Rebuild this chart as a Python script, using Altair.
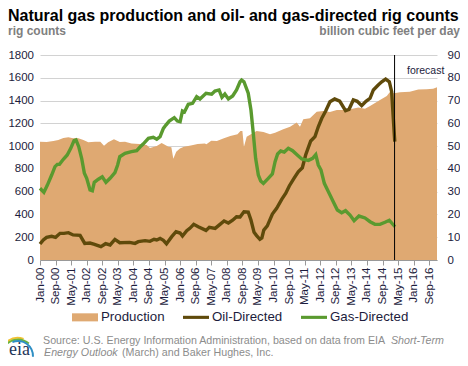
import altair as alt
import pandas as pd

# month index counted from Jan-00
prod_m = [0,3.4,6.9,9.4,12,14.6,17,19.7,22.3,24.8,28.3,31,32.9,35,38,41,43.7,47,51,54.8,56.5,60,62.5,66,67.5,68.5,70,71.9,74,77.5,81,84.7,85.5,88,90.9,94.5,97.8,101.5,103,104,104.8,106.2,111.3,114.8,118.2,120.8,125,128.5,131.9,133.6,135.3,138.7,142.2,145.6,149,152.5,157.6,163.6,167,169.6,174.7,178.2,179.9,181.9,185,190,194.4,198.7,202,204]
prod_v = [51.9,51.8,52.2,52.7,53.6,53.9,53.4,53.4,52.7,51.7,51.9,51.9,50.2,51.7,53,51.8,51.9,51.2,50.9,50.5,49.2,50,51.4,49.7,49.5,44.5,47.5,49,49.7,50.3,50.9,51.2,50.8,52.4,52.2,53.4,54.4,55.2,56.6,56.6,49.7,54.1,56.6,56.2,55.2,55.9,57.4,58.5,60.4,58.5,61.8,62.2,65.1,65.4,65.0,65.9,65.9,66.9,66.4,67.6,70.2,72,73.9,73.2,73.6,73.9,74.8,75,75.2,75.8]

gas_m = [0,2,3.8,6,7.7,8.9,10,12,14,15.8,17.5,18.5,19.9,21.4,22.8,24,25.7,26.9,27.9,30,32,33.9,36,38.5,39.9,41,43.7,47,49.7,51.4,53,55.7,58.2,60,61.7,63.4,64.7,66.4,69,70.6,72,73.2,74.2,76.2,78.4,80.5,82.2,85.3,88.2,89.9,92,93.5,95,96.8,99,101,102.8,103.6,104.8,107,108.4,109.6,110.8,112.2,113.4,114.8,117.3,119.4,120.8,122.1,123.7,125.5,127.6,129.8,132.2,134.5,137.9,140.1,141.7,143,144.4,146.1,148.2,150.7,152.8,155,157,159.3,161.4,163.9,167,169.6,172.1,174.7,177.3,179.5,182.4]
gas_v = [630,594,658,746,820,840,840,884,922,980,1048,1054,995,893,761,717,615,608,682,709,731,682,717,767,834,907,936,951,960,992,1018,1068,1077,1060,1083,1156,1185,1220,1250,1220,1214,1308,1300,1367,1376,1434,1414,1464,1455,1484,1493,1428,1457,1414,1440,1493,1565,1580,1565,1464,1317,1112,893,746,694,673,717,755,863,931,957,948,981,960,922,887,875,893,925,834,790,673,600,512,439,415,433,395,345,386,369,336,313,313,331,349,292]

oil_m = [0,1.7,3.4,6,8,10.3,12.3,14.6,17,20.6,23,25.7,28,31.3,33.7,36,38.5,41,46,48.8,50.5,54,56.5,58.6,60,61.7,63.4,65,67.7,69.9,72,73.2,75.4,77,79,81.3,85.3,87,90,92.5,94.6,96.8,99,101,102.8,104.8,107,108.4,110,111.3,113,114,115,116.8,119.4,121.6,124.2,126.3,128.1,130.5,132.7,134.8,136.5,139.1,141.3,143,144.8,146.8,149,151.4,154,157,158.8,161,163,165.3,167.5,169.6,171.3,173.8,175.6,177.6,179.5,180.7,181.6,182.3]
oil_v = [140,176,199,208,199,234,234,240,220,217,146,149,138,117,143,132,181,152,155,146,161,170,164,182,176,190,173,143,205,248,237,211,257,278,313,292,260,287,278,313,342,325,349,380,378,424,420,351,243,214,182,193,263,299,404,454,533,586,650,717,775,810,922,1045,1083,1170,1244,1308,1390,1414,1395,1311,1323,1405,1393,1355,1393,1420,1493,1537,1565,1589,1565,1478,1229,1039]

forecast_m = [182.2]
tick_months = list(range(0, 201, 8))
tick_labels = ["Jan-00","Sep-00","May-01","Jan-02","Sep-02","May-03","Jan-04","Sep-04","May-05","Jan-06","Sep-06","May-07","Jan-08","Sep-08","May-09","Jan-10","Sep-10","May-11","Jan-12","Sep-12","May-13","Jan-14","Sep-14","May-15","Jan-16","Sep-16"]
series = ["Production", "Oil-Directed", "Gas-Directed"]
colors = ["#DFA972", "#5F4A0B", "#5A9A2F"]
symbols = ["M-1,-0.31H1V0.31H-1Z", "M-1,-0.12H1V0.12H-1Z", "M-1,-0.12H1V0.12H-1Z"]

FONT = "Liberation Sans"
INK = "#1c1c3c"
GREY = "#808080"
SRC = "#8c8c8c"
OX, OY = 40, 55  # plot origin on the page

x_scale = alt.Scale(domain=[0, 204], nice=False, zero=False)
left = alt.Scale(domain=[0, 1800], nice=False)
right = alt.Scale(domain=[0, 90], nice=False)

label_expr = "[" + ",".join(f"'{t}'" for t in tick_labels) + "][datum.value/8]"
x_axis = alt.Axis(values=tick_months, labelExpr=label_expr, title=None, labelAngle=270, labelAlign="right",
                  labelBaseline="middle", labelPadding=2, labelFontSize=11.5, labelColor=INK, labelOverlap=False,
                  tickColor="#999999", tickSize=5, domainColor="#999999", grid=False, labelFont=FONT,
                  labelBound=False, labelFlush=False)
y_axis = alt.Axis(values=list(range(0, 1801, 200)), format="d", title=None, domain=False, ticks=False, grid=True,
                  gridColor="#D2D2D2", labelFontSize=11.5, labelColor=INK, labelPadding=6.5, labelFont=FONT)
r_axis = alt.Axis(values=list(range(0, 91, 10)), orient="right", title=None, domain=False, ticks=False, grid=False,
                  labelFontSize=11.5, labelColor=INK, labelPadding=10, labelFont=FONT)

grid_holder = alt.Chart(pd.DataFrame({"m": [0], "v": [0]})).mark_point(opacity=0).encode(
    x=alt.X("m:Q", scale=x_scale, axis=x_axis), y=alt.Y("v:Q", scale=left, axis=y_axis))
area = alt.Chart(pd.DataFrame({"m": prod_m, "v": prod_v})).mark_area(color=colors[0], interpolate="linear").encode(
    x=alt.X("m:Q", scale=x_scale, axis=None), y=alt.Y("v:Q", scale=right, axis=r_axis))
oil = alt.Chart(pd.DataFrame({"m": oil_m, "v": oil_v})).mark_line(color=colors[1], strokeWidth=3.4).encode(
    x=alt.X("m:Q", scale=x_scale, axis=None), y=alt.Y("v:Q", scale=left, axis=None))
gas = alt.Chart(pd.DataFrame({"m": gas_m, "v": gas_v})).mark_line(color=colors[2], strokeWidth=3.4).encode(
    x=alt.X("m:Q", scale=x_scale, axis=None), y=alt.Y("v:Q", scale=left, axis=None))
rule = alt.Chart(pd.DataFrame({"m": forecast_m})).mark_rule(color="#000000", strokeWidth=1).encode(
    x=alt.X("m:Q", scale=x_scale, axis=None))

legend_df = pd.DataFrame({"series": series, "m": [0, 0, 0], "v": [0, 0, 0]})
legend = alt.Legend(title=None, orient="none", legendX=72 - OX, legendY=304 - OY, direction="horizontal", columns=3,
                    symbolSize=676, symbolStrokeWidth=0, labelFontSize=13.3, labelColor=INK, labelFont=FONT,
                    labelOffset=3, columnPadding=18, symbolOpacity=1)
legend_layer = alt.Chart(legend_df).mark_point(filled=True, size=0).encode(
    x=alt.X("m:Q", scale=x_scale, axis=None), y=alt.Y("v:Q", scale=left, axis=None),
    color=alt.Color("series:N", scale=alt.Scale(domain=series, range=colors), legend=legend, sort=series),
    shape=alt.Shape("series:N", scale=alt.Scale(domain=series, range=symbols), legend=legend, sort=series))


def label(text, px, py, size=12, align="left", color=INK, weight="normal", style="normal", font=FONT):
    return alt.Chart(pd.DataFrame({"t": [text]})).mark_text(
        align=align, baseline="middle", fontSize=size, color=color, fontWeight=weight, fontStyle=style, font=font
    ).encode(text="t:N", x=alt.value(px - OX), y=alt.value(py - OY))


def swoosh(color, r, a, b, px=18, py=356):
    return alt.Chart(pd.DataFrame({"a": [0]})).mark_arc(
        color=color, radius=r, radius2=r - 2, theta=a, theta2=b
    ).encode(x=alt.value(px - OX), y=alt.value(py - OY))


texts = [
    label("Natural gas production and oil- and gas-directed rig counts", 8, 16, size=16, color="#000000", weight="bold"),
    label("rig counts", 8, 31, size=12, color=GREY, weight="bold"),
    label("billion cubic feet per day", 460, 31, size=12, align="right", color=GREY, weight="bold"),
    label("forecast", 407, 71, size=10.5),
    label("Source: U.S. Energy Information Administration, based on data from EIA", 43, 341, size=10.7, color=SRC),
    label("Short-Term", 444, 341, size=10.7, align="right", color=SRC, style="italic"),
    label("Energy Outlook", 44, 352.5, size=10.7, color=SRC, style="italic"),
    label("(March) and Baker Hughes, Inc.", 122, 352.5, size=10.7, color=SRC),
    label("eia", 9, 350, size=18, color="#1d3557", font="Liberation Serif"),
    swoosh("#F2C230", 19, 5.5, 6.6),
    swoosh("#6BB33F", 17.5, 5.6, 7.0),
    swoosh("#2F8FC4", 16, 5.9, 7.9),
]

base = alt.layer(grid_holder, area, oil, gas, rule, legend_layer, *texts).resolve_scale(y="independent").resolve_axis(
    x="independent").properties(
    width=397, height=205,
    autosize=alt.AutoSizeParams(type="none"),
    padding={"left": OX - 8, "top": OY - 8, "right": 23, "bottom": 98},
)
chart = base.configure_view(stroke=None)
chart.save("out.html", embed_options={"renderer": "svg", "actions": False})
